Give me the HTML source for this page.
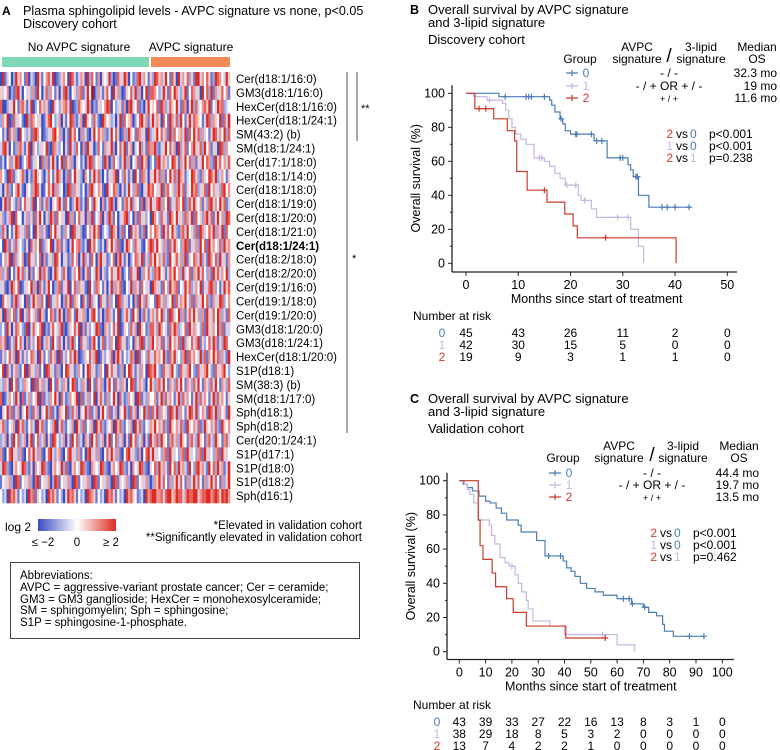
<!DOCTYPE html>
<html><head><meta charset="utf-8">
<style>
html,body{margin:0;padding:0;background:#fff;}
svg{display:block;font-family:"Liberation Sans",Arial,sans-serif;}
</style></head>
<body>
<svg id="fig" width="780" height="750" viewBox="0 0 780 750" xmlns="http://www.w3.org/2000/svg">
<defs>
<linearGradient id="lg" x1="0" x2="1" y1="0" y2="0">
<stop offset="0" stop-color="#3b4cc0"/><stop offset="0.5" stop-color="#ffffff"/><stop offset="1" stop-color="#dd2a22"/>
</linearGradient>
</defs>
<g>
<text x="2" y="15" font-size="12" font-weight="bold">A</text>
<text x="23" y="15" font-size="12.6">Plasma sphingolipid levels - AVPC signature vs none, p&lt;0.05</text>
<text x="23" y="28" font-size="12.6">Discovery cohort</text>
<text x="79" y="51" font-size="12" text-anchor="middle">No AVPC signature</text>
<text x="191" y="51" font-size="12" text-anchor="middle">AVPC signature</text>
<rect x="2" y="57" width="147" height="10" fill="#7fd8b4"/>
<rect x="151" y="57" width="79" height="10" fill="#f48a5a"/>
<g id="heat"></g>
<g id="hlabels"></g>
<line x1="347" y1="72" x2="347" y2="433" stroke="#555" stroke-width="1"/>
<line x1="357" y1="72" x2="357" y2="141" stroke="#555" stroke-width="1"/>
<text x="361" y="112" font-size="11">**</text>
<text x="352" y="262" font-size="11">*</text>
<text x="5" y="531" font-size="12">log 2</text>
<rect x="38" y="519" width="78" height="12" fill="url(#lg)"/>
<text x="43" y="546" font-size="11.5" text-anchor="middle">≤ −2</text>
<text x="77" y="546" font-size="11.5" text-anchor="middle">0</text>
<text x="111" y="546" font-size="11.5" text-anchor="middle">≥ 2</text>
<text x="362" y="529" font-size="11.5" text-anchor="end">*Elevated in validation cohort</text>
<text x="362" y="541" font-size="11.5" text-anchor="end">**Significantly elevated in validation cohort</text>
<rect x="10.5" y="562.5" width="349" height="76" fill="none" stroke="#444" stroke-width="1"/>
<g font-size="11.5">
<text x="20" y="579">Abbreviations:</text>
<text x="20" y="591">AVPC = aggressive-variant prostate cancer; Cer = ceramide;</text>
<text x="20" y="603">GM3 = GM3 ganglioside; HexCer = monohexosylceramide;</text>
<text x="20" y="614">SM = sphingomyelin; Sph = sphingosine;</text>
<text x="20" y="626">S1P = sphingosine-1-phosphate.</text>
</g>
</g>
<g id="panelB"></g>
<g id="panelC"></g>
</svg>
<script>
const rowLabels = ["Cer(d18:1/16:0)","GM3(d18:1/16:0)","HexCer(d18:1/16:0)","HexCer(d18:1/24:1)","SM(43:2) (b)","SM(d18:1/24:1)","Cer(d17:1/18:0)","Cer(d18:1/14:0)","Cer(d18:1/18:0)","Cer(d18:1/19:0)","Cer(d18:1/20:0)","Cer(d18:1/21:0)","Cer(d18:1/24:1)","Cer(d18:2/18:0)","Cer(d18:2/20:0)","Cer(d19:1/16:0)","Cer(d19:1/18:0)","Cer(d19:1/20:0)","GM3(d18:1/20:0)","GM3(d18:1/24:1)","HexCer(d18:1/20:0)","S1P(d18:1)","SM(38:3) (b)","SM(d18:1/17:0)","Sph(d18:1)","Sph(d18:2)","Cer(d20:1/24:1)","S1P(d17:1)","S1P(d18:0)","S1P(d18:2)","Sph(d16:1)"];
const heatRows = [
"0813402856417032085146738012564087313650827416054382017538604127836415"+"287563841750836472518836475128764385",
"5346021783043526184037264150378204526713849026315740836201547382604817"+"764238517486325814763508472816357461",
"7002538416751380247365108342567380127543860215346870423516078347120584"+"547186237548317605827346758143867234",
"2648017354108276453015784236051487213608542731086452303817456024783615"+"836507418637284158376541387265481738",
"4150736208432517864012357846203185740625103847562138473016285417635082"+"358473618274563817485726341587364827",
"3785041267315806423548107632405183274061853027416358204738156034825176"+"682135847360825714683572846135087264",
"1304625870246813540726158304817362054130687245318602743158260437185602"+"417836524875163847261538476218574637",
"6420871345720316854203741586302714853206415837204153680427315084176305"+"583726148372865134875216348758236415",
"3057214683105426873014758263401872653140278346510834762051384267103586"+"745381674526837154867235718463527846",
"0582743161473528046137205468317402586130742854061378205416738254170638"+"357826481537648127583461527836485713",
"5213680744036251738405286174530826147350628143705286140357824061735240"+"864273518648352763817452683715846287",
"2750413863527140836251074835126408735201463857024318650271408365127046"+"476518374852167384527186347582638174",
"4086152734215073648125480376152038467213085742130648527103864275310468"+"738452617385426871536284718564372856",
"1463807254601835247061352874035127460382517406835124706831502476381527"+"584637218457362815476382518647283516",
"6237041583725061438275103864275013648205714386052147358602417538026473"+"276845137584628347165837426185736482",
"3510286470135482607315840267135804726531084276415038265710438265174350"+"865317428567143857236481537862413857",
"0745316825407138562740813564027381654073182540735162408725314061852734"+"418736254817365842716358472163587246",
"5082647138052743618520476138502764183562037841502763148025731846027315"+"637482518734826157384626185374862517",
"2418503764218057346802157436810254738061524387106524738015427360854127"+"752864317586234718563427185364827153",
"6370152847306152487036518427305168240735216840371526408735124063781526"+"846371528463718254736815247386152874",
"1524736083152476308514273608152473860125473680152437068514237608154273"+"375648217583426817564382716485726318",
"4807315621480735261408753162048735126404873512640847351260487315264087"+"684217536842175368421735684217356842",
"3265084713265408173625084173265048713265084173620584173265048713652048"+"526738416527384165273841652738416527",
"7013642850713624580713264850731264580713624805731624850731264508713264"+"461582736415827364158273641582736415",
"0548271360548217360548271306548127360548271360584271360548217360548271"+"738264518738264158738246518738264518",
"5721436085721463085721436805721436085271436085721346085721436085721436"+"584637218546372185463712854637218546",
"2360518472360581472360518742360518472306518472360581472360518472360518"+"367285416736285416732854167328541673",
"6104783526104738526104783256104783526140783526104738526104783521604783"+"853426718534267185342671853426718534",
"3872105643872150643872105643827105643872106543872105643872150643872105"+"472856318472856318427856318472856138",
"1453620871453620781453602871453620871435620871453620871543620871453620"+"265837416258374162583741625837416258",
"4230867514230867154230867514203867514230876514230867514230867541230867"+"886673788568773687788567788678758786"
];
const HX0 = 0, HX1 = 230, HY0 = 72, HY1 = 503;
function heatColor(v){
  const t = (v-4)/4;
  const blue=[59,76,192], red=[221,42,34], w=[255,255,255];
  const c = t<0 ? blue : red, a=Math.abs(t);
  const r = w.map((x,i)=>Math.round(x+(c[i]-x)*a));
  return `rgb(${r[0]},${r[1]},${r[2]})`;
}
const NS="http://www.w3.org/2000/svg";
function mk(tag, attrs, parent){ const e=document.createElementNS(NS,tag); for(const k in attrs) e.setAttribute(k,attrs[k]); if(parent) parent.appendChild(e); return e; }
(function(){
  const g=document.getElementById('heat'), gl=document.getElementById('hlabels');
  const nR=heatRows.length, nC=106;
  const ch=(HY1-HY0)/nR, cw=(HX1-HX0)/nC;
  heatRows.forEach((row,ri)=>{
    for(let ci=0;ci<row.length && ci<nC;ci++){
      const r=mk('rect',{x:(HX0+ci*cw).toFixed(2),y:(HY0+ri*ch).toFixed(2),width:(cw+0.3).toFixed(2),height:(ch+0.3).toFixed(2),fill:heatColor(+row[ci])},g);
      
      
    }
  });
  rowLabels.forEach((l,i)=>{
    const t=mk('text',{x:236,y:(HY0+i*ch+11).toFixed(1),'font-size':'11.5'},gl);
    if(l==="Cer(d18:1/24:1)") t.setAttribute('font-weight','bold');
    t.textContent=l;
    
    
  });
})();

const bBlueT=[0,6.3,16,16.4,17,18,18.5,19,20,24.5,27,31,31.5,32,33,35,43];
const bBlueS=[100,98,96,93,89,85,82,78,76,72,62,58,55,51,40,33,33];
const bBlueC=[7.5,11.5,12,12.5,15,18.2,21,21.2,24,25,26,29.5,30,32.5,32.8,37.5,38.5,40,42.7];
const bLavT=[0,1.5,4,7,7.6,8.2,8.8,9.5,10.5,11.5,13,15,16,17,18,19,21.5,22,24,25,31.5,33,34];
const bLavS=[100,98,96,94,90,85,80,76,73,70,62,60,57,53,50,46,40,37,32,27,20,10,0];
const bLavC=[4.5,14,14.5,19.3,21,22.7,29,31];
const bRedT=[0,1.7,5.3,7.9,9.3,9.7,11.7,15.5,18.9,20.5,21.3,40.2];
const bRedS=[100,91,85,78,72,54,43,36,29,22,15,0];
const bRedC=[2.5,3.8,15,26.7];
const bRiskTicks=[0,10,20,30,40,50];
const bRisk0=[45,43,26,11,2,0];
const bRisk1=[42,30,15,5,0,0];
const bRisk2=[19,9,3,1,1,0];
const cBlueT=[0,1.5,3,5,7.5,10,11.7,14,16,18,22.4,23.5,27,29.4,32.6,39.5,40.8,42.5,44,46,48.4,51.6,54.8,60,65.5,70,72,75,77.3,78,81.4,93];
const cBlueS=[100,98,96,94,91,88,87,84,81,77,74,70,70,65,56,53,49,47,44,40,37,35,33,31,28,26,23,21,16,12,9,9];
const cBlueC=[34,38.5,62.4,64.6,65.8,70.5,87.5,93];
const cLavT=[0,2,3,4,5.5,7.2,11.4,12.3,13.5,15.5,17.4,19,21.2,22.4,23.7,25.5,26.2,28,34.5,40,60,66.7];
const cLavS=[100,98,95,92,87,77,74,68,63,55,52,50,45,40,35,30,25,18,15,10,4,0];
const cLavC=[20,54.5];
const cRedT=[0,5.7,7.2,7.9,9,12.5,13.8,18,20.5,25.5,40.5,55.5];
const cRedS=[100,100,77,62,54,46,38,31,23,15,8,8];
const cRedC=[55.5];
const cRiskTicks=[0,10,20,30,40,50,60,70,80,90,100];
const cRisk0=[43,39,33,27,22,16,13,8,3,1,0];
const cRisk1=[38,29,18,8,5,3,2,0,0,0,0];
const cRisk2=[13,7,4,2,2,1,0,0,0,0,0];

const COL={blue:"#4a7db4",lav:"#c7b5e2",red:"#cc3a2a"};
function survAt(T,S,t){ let s=S[0]; for(let i=0;i<T.length;i++){ if(T[i]<=t) s=S[i]; } return s; }

function panel(gid, cfg){
  const g=document.getElementById(gid);
  const xs=v=>cfg.x0+(v-cfg.xmin)/(cfg.xmax-cfg.xmin)*(cfg.x1-cfg.x0);
  const ys=v=>cfg.y0-(v/100)*(cfg.y0-cfg.y1);
  const txt=(x,y,s,attrs,name)=>{ const t=mk('text',Object.assign({x:x,y:y,'font-size':'12'},attrs||{}),g); t.textContent=s;   return t; };
  txt(cfg.lx,cfg.ty[0],cfg.letter,{'font-weight':'bold','font-size':'12.5'},'panel-letter');
  txt(cfg.lx+18,cfg.ty[0],"Overall survival by AVPC signature",{'font-size':'13'},'panel-title');
  txt(cfg.lx+18,cfg.ty[1],"and 3-lipid signature",{'font-size':'13'},'panel-title-2');
  txt(cfg.lx+18,cfg.ty[2],cfg.cohort,{'font-size':'13'},'panel-cohort');
  let a=mk('line',{x1:cfg.ax,y1:cfg.y1-8,x2:cfg.ax,y2:cfg.ay,stroke:'#222','stroke-width':1.3},g);
   
  a=mk('line',{x1:cfg.ax,y1:cfg.ay,x2:cfg.axEnd,y2:cfg.ay,stroke:'#222','stroke-width':1.3},g);
   
  [0,20,40,60,80,100].forEach(v=>{
    const tk=mk('line',{x1:cfg.ax-4,y1:ys(v),x2:cfg.ax,y2:ys(v),stroke:'#222'},g);
     
    if(v<100){ const m=mk('line',{x1:cfg.ax-2,y1:ys(v+10),x2:cfg.ax,y2:ys(v+10),stroke:'#222'},g);
        }
    txt(cfg.ax-7,ys(v)+4,String(v),{'text-anchor':'end','font-size':'12.5'},'y-tick-label');
  });
  cfg.ticks.forEach(v=>{
    const tk=mk('line',{x1:xs(v),y1:cfg.ay,x2:xs(v),y2:cfg.ay+4,stroke:'#222'},g);
     
    txt(xs(v),cfg.ay+17,String(v),{'text-anchor':'middle','font-size':'12.5'},'x-tick-label');
  });
  txt(0,0,"Overall survival (%)",{'text-anchor':'middle','font-size':'12.5',transform:`translate(${cfg.ax-32},${(ys(0)+ys(100))/2}) rotate(-90)`},'y-axis-title');
  txt((xs(cfg.xmin)+xs(cfg.xmax))/2,cfg.ay+31,"Months since start of treatment",{'text-anchor':'middle','font-size':'12.5'},'x-axis-title');
  cfg.series.forEach(s=>{
    let d=`M${xs(s.T[0])},${ys(s.S[0])}`;
    for(let i=1;i<s.T.length;i++){ d+=` H${xs(s.T[i])} V${ys(s.S[i])}`; }
    const p=mk('path',{d:d,fill:'none',stroke:s.c,'stroke-width':1.2},g);
     
    s.C.forEach(t=>{
      const cx=xs(t), cy=ys(survAt(s.T,s.S,t));
      const m=mk('path',{d:`M${cx-3},${cy} H${cx+3} M${cx},${cy-3} V${cy+3}`,stroke:s.c,'stroke-width':1.2},g);
       
    });
  });
  const L=cfg.leg;
  txt(L.gx,L.hy,"Group",{'text-anchor':'middle'},'legend-header-group');
  txt(L.ax,L.hy-12,"AVPC",{'text-anchor':'middle'},'legend-header-avpc');
  txt(L.ax,L.hy,"signature",{'text-anchor':'middle'},'legend-header-avpc-2');
  txt(L.sx,L.hy-1,"/",{'text-anchor':'middle','font-size':'19'},'legend-slash');
  txt(L.lx,L.hy-12,"3-lipid",{'text-anchor':'middle'},'legend-header-lipid');
  txt(L.lx,L.hy,"signature",{'text-anchor':'middle'},'legend-header-lipid-2');
  txt(L.mx,L.hy-12,"Median",{'text-anchor':'middle'},'legend-header-median');
  txt(L.mx,L.hy,"OS",{'text-anchor':'middle'},'legend-header-os');
  const labs=["- / -","- / + OR + / -","+ / +"];
  cfg.series.forEach((s,i)=>{
    const y=L.ry[i];
    const m=mk('path',{d:`M${L.gx-14},${y-4} H${L.gx-2} M${L.gx-8},${y-7} V${y-1}`,stroke:s.c,'stroke-width':1.2},g);
     
    txt(L.gx+6,y,String(i),{'text-anchor':'middle',fill:s.c},'legend-group-label');
    txt(L.sx,y,labs[i],{'text-anchor':'middle','font-size':i==2?'9':'12'},'legend-signature');
    txt(L.mr,y,cfg.medians[i],{'text-anchor':'end'},'legend-median');
  });
  const P=cfg.pv, pairs=[[2,0],[1,0],[2,1]];
  pairs.forEach((pr,i)=>{
    const y=P.y+i*12;
    txt(P.x,y,String(pr[0]),{'text-anchor':'end',fill:cfg.series[pr[0]].c},'pvalue-group-a');
    txt(P.x+9,y,"vs",{'text-anchor':'middle'},'pvalue-vs');
    txt(P.x+17,y,String(pr[1]),{fill:cfg.series[pr[1]].c},'pvalue-group-b');
    txt(P.px,y,cfg.pvals[i],{},'pvalue');
  });
  txt(cfg.lx+3,cfg.riskY,"Number at risk",{},'risk-table-title');
  const risks=[cfg.r0,cfg.r1,cfg.r2];
  risks.forEach((arr,i)=>{
    const y=cfg.riskY+17+i*12;
    txt(cfg.rgx,y,String(i),{'text-anchor':'middle',fill:cfg.series[i].c},'risk-group-label');
    arr.forEach((v,j)=>txt(xs(cfg.ticks[j]),y,String(v),{'text-anchor':'middle'},'risk-count'));
  });
}
panel('panelB',{letter:'B',cohort:'Discovery cohort',lx:410,ty:[14,27,44],
  xmin:0,xmax:50,x0:466,x1:727.3,y0:263.3,y1:93.3,ax:452,ay:272,axEnd:737,ticks:bRiskTicks,
  series:[{T:bBlueT,S:bBlueS,C:bBlueC,c:COL.blue,name:'group-0'},{T:bLavT,S:bLavS,C:bLavC,c:COL.lav,name:'group-1'},{T:bRedT,S:bRedS,C:bRedC,c:COL.red,name:'group-2'}],
  leg:{gx:580,hy:63,ax:637,sx:669,lx:701,mx:757,mr:777,ry:[77,90,102]},
  medians:["32.3 mo","19 mo","11.6 mo"],
  pv:{x:673,y:138,px:709},pvals:["p<0.001","p<0.001","p=0.238"],
  riskY:320,rgx:442,r0:bRisk0,r1:bRisk1,r2:bRisk2});
panel('panelC',{letter:'C',cohort:'Validation cohort',lx:410,ty:[403,416,433],
  xmin:0,xmax:100,x0:459.3,x1:722.3,y0:651.7,y1:480.7,ax:447,ay:659.5,axEnd:734,ticks:cRiskTicks,
  series:[{T:cBlueT,S:cBlueS,C:cBlueC,c:COL.blue,name:'group-0'},{T:cLavT,S:cLavS,C:cLavC,c:COL.lav,name:'group-1'},{T:cRedT,S:cRedS,C:cRedC,c:COL.red,name:'group-2'}],
  leg:{gx:563,hy:462,ax:619,sx:652,lx:683,mx:739,mr:759,ry:[477,489,501]},
  medians:["44.4 mo","19.7 mo","13.5 mo"],
  pv:{x:657,y:537,px:693},pvals:["p<0.001","p<0.001","p=0.462"],
  riskY:709,rgx:437,r0:cRisk0,r1:cRisk1,r2:cRisk2});
</script>
</body></html>
